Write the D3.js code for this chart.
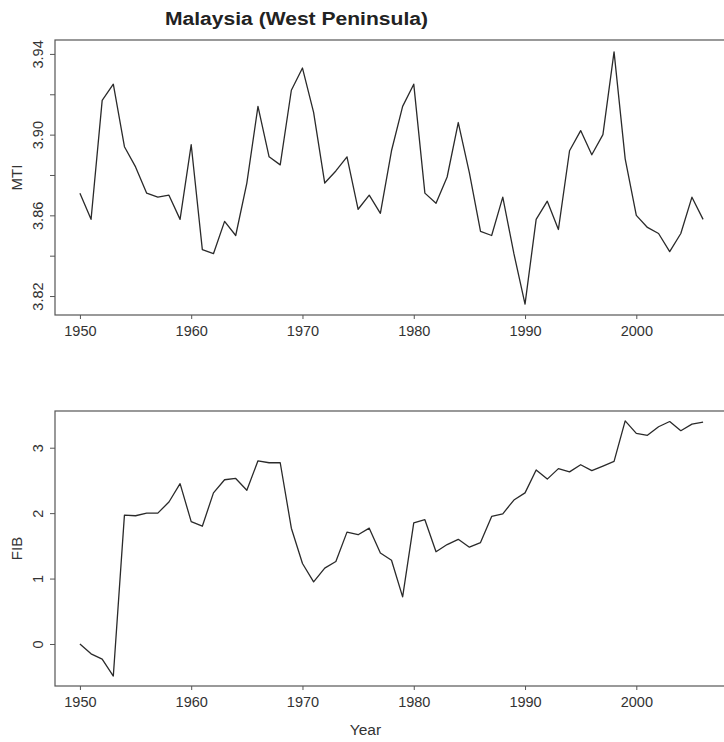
<!DOCTYPE html>
<html>
<head>
<meta charset="utf-8">
<script src="https://cdn.jsdelivr.net/npm/d3@7"></script>
<style>
  html, body { margin: 0; padding: 0; background: #fff; }
  svg { display: block; font-family: "Liberation Sans", Arial, sans-serif; }
</style>
</head>
<body>
<svg id="chart" width="724" height="742"></svg>
<script>
// ---- data ----
const years = [1950,1951,1952,1953,1954,1955,1956,1957,1958,1959,
               1960,1961,1962,1963,1964,1965,1966,1967,1968,1969,
               1970,1971,1972,1973,1974,1975,1976,1977,1978,1979,
               1980,1981,1982,1983,1984,1985,1986,1987,1988,1989,
               1990,1991,1992,1993,1994,1995,1996,1997,1998,1999,
               2000,2001,2002,2003,2004,2005,2006];
const mti = [3.871,3.858,3.917,3.925,3.894,3.884,3.871,3.869,3.870,3.858,
             3.895,3.843,3.841,3.857,3.850,3.876,3.914,3.889,3.885,3.922,
             3.933,3.911,3.876,3.882,3.889,3.863,3.870,3.861,3.892,3.914,
             3.925,3.871,3.866,3.879,3.906,3.881,3.852,3.850,3.869,3.841,
             3.816,3.858,3.867,3.853,3.892,3.902,3.890,3.900,3.941,3.888,
             3.860,3.854,3.851,3.842,3.851,3.869,3.858];
const fib = [0.00,-0.15,-0.23,-0.49,1.97,1.96,2.00,2.00,2.17,2.45,
             1.87,1.80,2.31,2.51,2.53,2.35,2.80,2.77,2.77,1.77,
             1.23,0.95,1.16,1.26,1.71,1.67,1.77,1.39,1.28,0.72,
             1.85,1.90,1.41,1.52,1.60,1.48,1.55,1.95,1.99,2.20,
             2.31,2.66,2.52,2.68,2.63,2.74,2.65,2.72,2.79,3.41,
             3.22,3.19,3.32,3.40,3.26,3.36,3.39];
const xTicks = [1950,1960,1970,1980,1990,2000];
const mtiTicks = [3.82,3.84,3.86,3.88,3.90,3.92,3.94];
const mtiLabelled = ["3.82","3.86","3.90","3.94"];
const fibTicks = [0,1,2,3];
const titleText = "Malaysia (West Peninsula)";

// ---- layout ----
const svg = d3.select("#chart");
const left = 55, right = 728;
const x = d3.scaleLinear().domain([1947.76, 2008.24]).range([left, right]);

const panels = [
  { values: mti, label: "MTI", top: 40, bottom: 315, domain: [3.8106, 3.9469],
    ticks: mtiTicks, fmt: d => { const s = d3.format(".2f")(d); return mtiLabelled.includes(s) ? s : ""; } },
  { values: fib, label: "FIB", top: 411, bottom: 686, domain: [-0.642, 3.561],
    ticks: fibTicks, fmt: d3.format("d") }
];

const tickFont = 14.5;
panels.forEach(p => {
  const y = d3.scaleLinear().domain(p.domain).range([p.bottom, p.top]);

  // series line
  svg.append("path")
    .datum(years.map((yr, i) => [yr, p.values[i]]))
    .attr("fill", "none")
    .attr("stroke", "#2a2a2a")
    .attr("stroke-width", 1.3)
    .attr("stroke-linejoin", "round")
    .attr("d", d3.line().x(d => x(d[0])).y(d => y(d[1])));

  // frame
  svg.append("rect")
    .attr("x", left).attr("y", p.top)
    .attr("width", right - left).attr("height", p.bottom - p.top)
    .attr("fill", "none").attr("stroke", "#555").attr("stroke-width", 1.2);

  // x axis
  const gx = svg.append("g")
    .attr("transform", `translate(0,${p.bottom})`)
    .call(d3.axisBottom(x).tickValues(xTicks).tickFormat(d3.format("d")).tickSize(4).tickPadding(7));
  gx.select(".domain").remove();
  gx.selectAll("line").attr("stroke", "#555");
  gx.selectAll("text").attr("font-size", tickFont).attr("fill", "#333")
    .attr("font-family", "Liberation Sans, Arial, sans-serif");

  // y axis
  const gy = svg.append("g")
    .attr("transform", `translate(${left},0)`)
    .call(d3.axisLeft(y).tickValues(p.ticks).tickFormat(p.fmt).tickSize(5));
  gy.select(".domain").remove();
  gy.selectAll("line").attr("stroke", "#555");
  gy.selectAll("text")
    .attr("x", null).attr("dy", null)
    .attr("text-anchor", "middle")
    .attr("transform", "translate(-12,0) rotate(-90)")
    .attr("font-size", tickFont).attr("fill", "#333")
    .attr("font-family", "Liberation Sans, Arial, sans-serif");

  // y label
  svg.append("text")
    .attr("transform", `translate(22,${(p.top + p.bottom) / 2}) rotate(-90)`)
    .attr("text-anchor", "middle")
    .attr("font-size", 15).attr("fill", "#333")
    .text(p.label);
});

// title
svg.append("text")
  .attr("x", 165).attr("y", 25)
  .attr("font-size", 18).attr("font-weight", "bold").attr("fill", "#222")
  .attr("textLength", 263).attr("lengthAdjust", "spacingAndGlyphs")
  .text(titleText);

// x label
svg.append("text")
  .attr("x", 365.5).attr("y", 735)
  .attr("text-anchor", "middle")
  .attr("font-size", 15.5).attr("fill", "#333")
  .text("Year");
</script>
</body>
</html>
